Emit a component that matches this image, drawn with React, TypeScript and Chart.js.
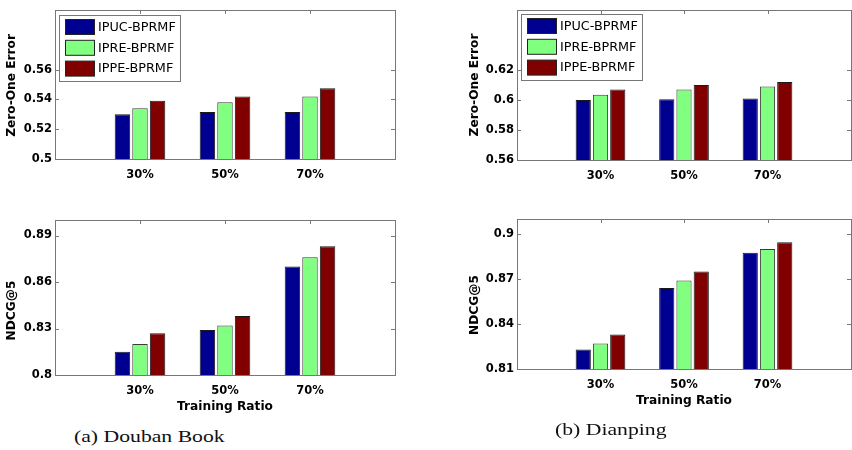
import React, { useEffect, useRef } from 'react';
import { Chart, registerables } from 'chart.js';

Chart.register(...registerables);

// ---------------- data ----------------
const categories = ['30%', '50%', '70%'];
const methods = ['IPUC-BPRMF', 'IPRE-BPRMF', 'IPPE-BPRMF'];

// (a) Douban Book — Zero-One Error
const doubanZeroOneIPUC = [0.530, 0.5315, 0.5315];
const doubanZeroOneIPRE = [0.534, 0.538, 0.542];
const doubanZeroOneIPPE = [0.539, 0.542, 0.5475];
const doubanZeroOneTicks = [0.5, 0.52, 0.54, 0.56];

// (a) Douban Book — NDCG@5
const doubanNdcgIPUC = [0.815, 0.829, 0.870];
const doubanNdcgIPRE = [0.820, 0.832, 0.876];
const doubanNdcgIPPE = [0.827, 0.838, 0.883];
const doubanNdcgTicks = [0.8, 0.83, 0.86, 0.89];

// (b) Dianping — Zero-One Error
const dianpingZeroOneIPUC = [0.600, 0.6005, 0.601];
const dianpingZeroOneIPRE = [0.6035, 0.607, 0.609];
const dianpingZeroOneIPPE = [0.607, 0.610, 0.612];
const dianpingZeroOneTicks = [0.56, 0.58, 0.6, 0.62];

// (b) Dianping — NDCG@5
const dianpingNdcgIPUC = [0.823, 0.864, 0.8875];
const dianpingNdcgIPRE = [0.827, 0.869, 0.890];
const dianpingNdcgIPPE = [0.833, 0.875, 0.8945];
const dianpingNdcgTicks = [0.81, 0.84, 0.87, 0.9];

// ---------------- styles ----------------
const barColors = ['#000090', '#80FF80', '#800000'];
const barEdges = ['#1a1a1a', '#3a3a3a', '#1a1a1a'];
const FONT = '"DejaVu Sans", sans-serif';
const frameColor = '#777777';

type PanelProps = {
  left: number;
  top: number;
  width: number;
  height: number;
  padTop: number;
  padRight: number;
  yWidth: number;
  xHeight: number;
  yMin: number;
  yMax: number;
  yTicks: number[];
  series: number[][];
  yTitle: string;
  yTitleX: number;
  yTitleDy: number;
  xTitle?: string;
  legend?: { dx: number; dy: number };
};

function Panel(p: PanelProps) {
  const ref = useRef<HTMLCanvasElement | null>(null);

  useEffect(() => {
    const canvas = ref.current;
    if (!canvas) return;

    const line = (ctx: CanvasRenderingContext2D, x1: number, y1: number, x2: number, y2: number) => {
      ctx.beginPath();
      ctx.moveTo(x1, y1);
      ctx.lineTo(x2, y2);
      ctx.stroke();
    };

    const decor = {
      id: 'matlabDecor',
      beforeDatasetsDraw(chart: any) {
        const { ctx, chartArea: a, scales } = chart;
        ctx.save();
        ctx.strokeStyle = frameColor;
        ctx.lineWidth = 1;
        const tl = 4;
        p.yTicks.forEach((v) => {
          const py = Math.round(scales.y.getPixelForValue(v)) + 0.5;
          line(ctx, a.left, py, a.left + tl, py);
          line(ctx, a.right - tl, py, a.right, py);
        });
        categories.forEach((_, i) => {
          const px = Math.round(scales.x.getPixelForValue(i + 1)) + 0.5;
          line(ctx, px, a.top, px, a.top + tl);
          line(ctx, px, a.bottom - tl, px, a.bottom);
        });
        ctx.restore();
      },
      afterDatasetsDraw(chart: any) {
        const { ctx, chartArea: a } = chart;
        ctx.save();
        ctx.strokeStyle = frameColor;
        ctx.lineWidth = 1;
        const l = Math.round(a.left) + 0.5;
        const t = Math.round(a.top) + 0.5;
        const r = Math.round(a.right) + 0.5;
        const b = Math.round(a.bottom) + 0.5;
        ctx.strokeRect(l, t, r - l, b - t);

        if (p.legend) {
          const bx = Math.round(a.left + p.legend.dx) + 0.5;
          const by = Math.round(a.top + p.legend.dy) + 0.5;
          const bw = 121;
          const bh = 66;
          ctx.fillStyle = '#ffffff';
          ctx.fillRect(bx, by, bw, bh);
          ctx.strokeStyle = frameColor;
          ctx.strokeRect(bx, by, bw, bh);
          ctx.font = `12.8px ${FONT}`;
          ctx.textBaseline = 'middle';
          ctx.textAlign = 'left';
          chart.data.datasets.forEach((ds: any, i: number) => {
            const sy = by + 4 + i * 20.8;
            ctx.fillStyle = ds.backgroundColor;
            ctx.fillRect(bx + 6, sy, 29, 15);
            ctx.strokeStyle = '#222';
            ctx.strokeRect(bx + 6, sy, 29, 15);
            ctx.fillStyle = '#000';
            ctx.fillText(ds.label, bx + 38.5, sy + 8);
          });
        }
        ctx.restore();
      },
      afterDraw(chart: any) {
        const { ctx, chartArea: a } = chart;
        ctx.save();
        ctx.fillStyle = '#000';
        ctx.font = `bold 12.2px ${FONT}`;
        ctx.textAlign = 'center';
        ctx.textBaseline = 'middle';
        ctx.translate(p.yTitleX, (a.top + a.bottom) / 2 + p.yTitleDy);
        ctx.rotate(-Math.PI / 2);
        ctx.fillText(p.yTitle, 0, 0);
        ctx.restore();
        if (p.xTitle) {
          ctx.save();
          ctx.fillStyle = '#000';
          ctx.font = `bold 12.2px ${FONT}`;
          ctx.textAlign = 'center';
          ctx.textBaseline = 'middle';
          ctx.fillText(p.xTitle, (a.left + a.right) / 2, a.bottom + 32);
          ctx.restore();
        }
      },
    };

    const chart = new Chart(canvas, {
      type: 'bar',
      data: {
        labels: ['', ...categories, ''],
        datasets: methods.map((m, i) => ({
          label: m,
          data: [null, ...p.series[i], null],
          backgroundColor: barColors[i],
          borderColor: barEdges[i],
          borderWidth: 1,
          borderSkipped: 'start',
          base: p.yMin,
          categoryPercentage: 0.62,
          barPercentage: 0.88,
        })),
      } as any,
      options: {
        responsive: false,
        animation: false,
        devicePixelRatio: 1,
        layout: { padding: { left: 0, top: p.padTop, right: p.padRight, bottom: 0 } },
        plugins: {
          legend: { display: false },
          tooltip: { enabled: false },
          title: { display: false },
        },
        scales: {
          x: {
            type: 'category',
            offset: false,
            grid: { display: false, drawTicks: false },
            border: { display: false },
            ticks: {
              color: '#000',
              font: { family: FONT, size: 11.5, weight: 'bold' },
              padding: 9,
              autoSkip: false,
              maxRotation: 0,
            },
            afterFit: (s: any) => {
              s.height = p.xHeight;
            },
          },
          y: {
            type: 'linear',
            min: p.yMin,
            max: p.yMax,
            grid: { display: false, drawTicks: false },
            border: { display: false },
            ticks: {
              color: '#000',
              font: { family: FONT, size: 11.5, weight: 'bold' },
              padding: 3,
              callback: (v: any) => String(Number(Number(v).toFixed(2))),
            },
            afterBuildTicks: (s: any) => {
              s.ticks = p.yTicks.map((v) => ({ value: v }));
            },
            afterFit: (s: any) => {
              s.width = p.yWidth;
            },
          },
        },
      } as any,
      plugins: [decor as any],
    });

    return () => chart.destroy();
  }, []);

  return (
    <canvas
      ref={ref}
      width={p.width}
      height={p.height}
      style={{ position: 'absolute', left: p.left, top: p.top, width: p.width, height: p.height }}
    />
  );
}

const captionStyle: React.CSSProperties = {
  position: 'absolute',
  fontFamily: '"Liberation Serif", serif',
  fontSize: 17.5,
  lineHeight: '17.5px',
  whiteSpace: 'pre',
  transform: 'scaleX(1.24)',
  transformOrigin: 'left top',
  color: '#111',
};

export default function App() {
  return (
    <div
      style={{
        position: 'absolute',
        left: 0,
        top: 0,
        width: 852,
        height: 450,
        overflow: 'hidden',
        background: '#fff',
      }}
    >
      <Panel
        left={0}
        top={0}
        width={430}
        height={195}
        padTop={2}
        padRight={35}
        yWidth={55}
        xHeight={36}
        yMin={0.5}
        yMax={0.6}
        yTicks={doubanZeroOneTicks}
        series={[doubanZeroOneIPUC, doubanZeroOneIPRE, doubanZeroOneIPPE]}
        yTitle="Zero-One Error"
        yTitleX={12}
        yTitleDy={1}
        legend={{ dx: 4, dy: 5.5 }}
      />
      <Panel
        left={0}
        top={195}
        width={430}
        height={225}
        padTop={25}
        padRight={35}
        yWidth={55}
        xHeight={45}
        yMin={0.8}
        yMax={0.9}
        yTicks={doubanNdcgTicks}
        series={[doubanNdcgIPUC, doubanNdcgIPRE, doubanNdcgIPPE]}
        yTitle="NDCG@5"
        yTitleX={12}
        yTitleDy={13}
        xTitle="Training Ratio"
      />
      <Panel
        left={430}
        top={0}
        width={430}
        height={195}
        padTop={10}
        padRight={3}
        yWidth={87}
        xHeight={35}
        yMin={0.56}
        yMax={0.66}
        yTicks={dianpingZeroOneTicks}
        series={[dianpingZeroOneIPUC, dianpingZeroOneIPRE, dianpingZeroOneIPPE]}
        yTitle="Zero-One Error"
        yTitleX={45}
        yTitleDy={0}
        legend={{ dx: 4, dy: 4 }}
      />
      <Panel
        left={430}
        top={195}
        width={430}
        height={225}
        padTop={24}
        padRight={3}
        yWidth={87}
        xHeight={51}
        yMin={0.81}
        yMax={0.91}
        yTicks={dianpingNdcgTicks}
        series={[dianpingNdcgIPUC, dianpingNdcgIPRE, dianpingNdcgIPPE]}
        yTitle="NDCG@5"
        yTitleX={45}
        yTitleDy={11}
        xTitle="Training Ratio"
      />
      <div style={{ ...captionStyle, left: 74, top: 427.5 }}>{'(a) Douban Book'}</div>
      <div style={{ ...captionStyle, left: 555, top: 420.8 }}>{'(b) Dianping'}</div>
    </div>
  );
}
